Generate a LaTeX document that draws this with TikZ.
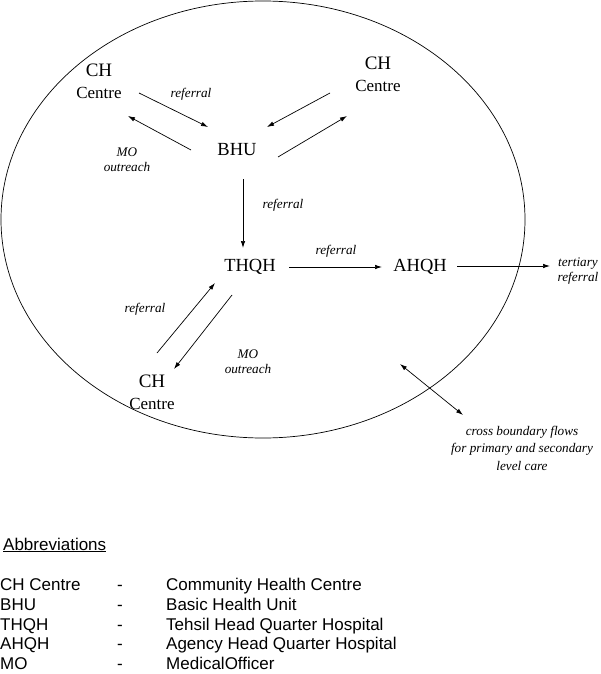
\documentclass[tikz,border=0pt]{standalone}
\usepackage{fontspec}
\setmainfont{Liberation Serif}
\setsansfont{Liberation Sans}
\usetikzlibrary{arrows.meta}

\begin{document}
\begin{tikzpicture}[
    x=1pt, y=-1pt,
    place/.style={inner sep=0pt, font=\fontsize{18.5}{21}\selectfont},
    chbox/.style={inner sep=0pt, align=center, font=\fontsize{19}{22}\selectfont},
    note/.style={inner sep=0pt, align=center, font=\itshape\fontsize{13.2}{15}\selectfont},
    flow/.style={-{Latex[length=7pt,width=4.5pt]}, line width=0.7pt},
    twoway/.style={{Latex[length=7pt,width=4.5pt]}-{Latex[length=7pt,width=4.5pt]}, line width=0.7pt},
    key/.style={inner sep=0pt, anchor=base west, font=\sffamily\fontsize{17}{19.7}\selectfont}
]
    \useasboundingbox (0,0) rectangle (600,674);

    % District boundary
    \draw[line width=0.7pt] (263,219.5) ellipse [x radius=262, y radius=218.5];

    % Facilities
    \node[chbox] (chtl) at (99,81) {CH\\{\fontsize{17}{22}\selectfont Centre}};
    \node[chbox] (chtr) at (378,74) {CH\\{\fontsize{17}{22}\selectfont Centre}};
    \node[chbox] (chb) at (152,392) {CH\\{\fontsize{17}{22}\selectfont Centre}};
    \node[place] (bhu) at (237,150) {BHU};
    \node[place] (thqh) at (250,267) {THQH};
    \node[place] (ahqh) at (420,267) {AHQH};
    \node[note] (tert) at (578,271) {tertiary\\referral};
    \node[note, font=\itshape\fontsize{13.2}{17.5}\selectfont] (cross) at (522,448)
        {cross boundary flows\\for primary and secondary\\level care};

    % Flow labels
    \node[note] (ref1) at (191,94) {referral};
    \node[note] (mo1) at (127,160) {MO\\outreach};
    \node[note] (ref2) at (283,205) {referral};
    \node[note] (ref3) at (336,251) {referral};
    \node[note] (ref4) at (145,309) {referral};
    \node[note] (mo2) at (248,362) {MO\\outreach};

    % Referrals and outreach
    \draw[flow] ([shift={(40,12)}]chtl.center) -- ([shift={(-29,-23)}]bhu.center);
    \draw[flow] ([shift={(-46,0)}]bhu.center) -- ([shift={(29,35)}]chtl.center);
    \draw[flow] ([shift={(-48,19)}]chtr.center) -- ([shift={(30,-23)}]bhu.center);
    \draw[flow] ([shift={(41,7)}]bhu.center) -- ([shift={(-31,42)}]chtr.center);
    \draw[flow] ([shift={(6,29)}]bhu.center) -- ([shift={(-7,-19)}]thqh.center);
    \draw[flow] ([shift={(39,0)}]thqh.center) -- ([shift={(-38,0)}]ahqh.center);
    \draw[flow] ([shift={(37,-1)}]ahqh.center) -- ([shift={(-28,-5)}]tert.center);
    \draw[flow] ([shift={(5,-39)}]chb.center) -- ([shift={(-35,16)}]thqh.center);
    \draw[flow] ([shift={(-18,28)}]thqh.center) -- ([shift={(22,-23)}]chb.center);

    % Cross boundary
    \coordinate (inside) at (400,364);
    \draw[twoway] (inside) -- ([shift={(-59,-33)}]cross.center);

    % Abbreviations
    \node[key] (abbr) at (3,550) {\underline{Abbreviations}};
    \node[key] (k1) at (0,590) {CH Centre};
    \node[key] (k2) at (0,610) {BHU};
    \node[key] (k3) at (0,630) {THQH};
    \node[key] (k4) at (0,649) {AHQH};
    \node[key] (k5) at (0,669) {MO};
    \foreach \y in {590,610,630,649,669}
        \node[key, anchor=base] at (120,\y) {-};
    \node[key] (d1) at (166,590) {Community Health Centre};
    \node[key] (d2) at (166,610) {Basic Health Unit};
    \node[key] (d3) at (166,630) {Tehsil Head Quarter Hospital};
    \node[key] (d4) at (166,649) {Agency Head Quarter Hospital};
    \node[key] (d5) at (166,669) {MedicalOfficer};
\end{tikzpicture}
\end{document}
